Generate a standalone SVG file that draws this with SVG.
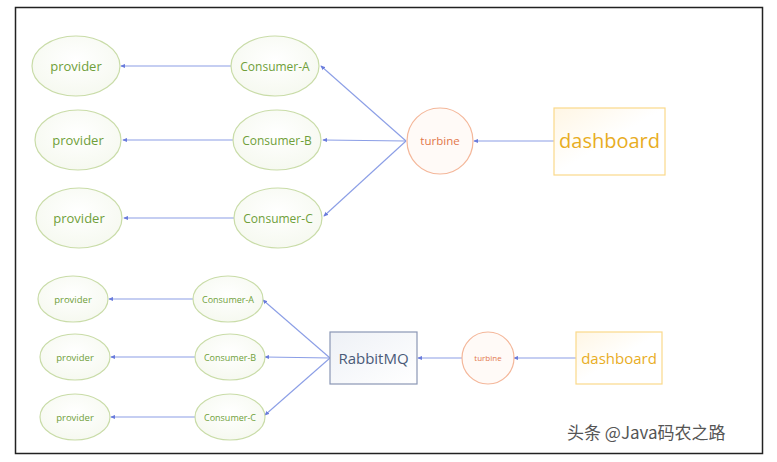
<svg xmlns="http://www.w3.org/2000/svg" width="777" height="462" viewBox="0 0 777 462">
<style>
.ell{fill:url(#gg);stroke:#c9dca8;stroke-width:1.2}
.gt{fill:#6f9f3a;font-family:"Open Sans","Liberation Sans",sans-serif;text-anchor:middle}
.ln{stroke:#8b9ee6;stroke-width:1.1;fill:none;marker-end:url(#ah)}
.tb{fill:#fffaf7;stroke:#f4b79a;stroke-width:1.2}
.tt{fill:#e2774a;font-family:"Open Sans","Liberation Sans",sans-serif;text-anchor:middle}
.db{fill:url(#gy);stroke:#fbd98a;stroke-width:1.2}
.dt{fill:#e8ad1f;font-family:"Open Sans","Liberation Sans",sans-serif;text-anchor:middle}
</style>
<defs>
<radialGradient id="gg" cx="50%" cy="40%" r="60%"><stop offset="0" stop-color="#ffffff"/><stop offset="1" stop-color="#f6f9f0"/></radialGradient>
<linearGradient id="gy" x1="0" y1="0" x2="1" y2="1"><stop offset="0" stop-color="#fff6e4"/><stop offset="0.5" stop-color="#ffffff"/></linearGradient>
<linearGradient id="gb" x1="0" y1="0" x2="1" y2="1"><stop offset="0" stop-color="#eef1f6"/><stop offset="1" stop-color="#ffffff"/></linearGradient>
<marker id="ah" viewBox="0 0 6 6" refX="5" refY="3" markerWidth="5" markerHeight="5" orient="auto" markerUnits="userSpaceOnUse"><path d="M0,0.5 L6,3 L0,5.5 z" fill="#6a7cdc"/></marker>
</defs>
<rect x="0" y="0" width="777" height="462" fill="#ffffff"/>
<rect x="15.5" y="7.5" width="747" height="446" fill="#ffffff" stroke="#222" stroke-width="1.5"/>
<g id="connectors">
<line class="ln" x1="231" y1="66" x2="121" y2="66"/>
<line class="ln" x1="233" y1="140" x2="123" y2="140"/>
<line class="ln" x1="234" y1="218" x2="124" y2="218"/>
<line class="ln" x1="406" y1="141" x2="321" y2="66"/>
<line class="ln" x1="406" y1="141" x2="323" y2="140"/>
<line class="ln" x1="406" y1="141" x2="324" y2="216"/>
<line class="ln" x1="554" y1="141" x2="474" y2="141"/>
<line class="ln" x1="193" y1="299" x2="109" y2="299"/>
<line class="ln" x1="195" y1="357" x2="111" y2="357"/>
<line class="ln" x1="195" y1="417" x2="111" y2="417"/>
<line class="ln" x1="330" y1="358" x2="263" y2="300"/>
<line class="ln" x1="330" y1="358" x2="265" y2="357"/>
<line class="ln" x1="330" y1="358" x2="265" y2="415"/>
<line class="ln" x1="462" y1="358" x2="418" y2="358"/>
<line class="ln" x1="576" y1="358" x2="514" y2="358"/>
</g>
<g id="provider1"><ellipse class="ell" cx="76" cy="66" rx="44" ry="30"/><text class="gt" x="76" y="70.5" font-size="13">provider</text></g>
<g id="consumerA"><ellipse class="ell" cx="275" cy="66" rx="44" ry="30"/><text class="gt" x="275" y="70.5" font-size="12">Consumer-A</text></g>
<g id="provider2"><ellipse class="ell" cx="78" cy="140" rx="43" ry="30"/><text class="gt" x="78" y="144.5" font-size="13">provider</text></g>
<g id="consumerB"><ellipse class="ell" cx="277" cy="140" rx="44" ry="30"/><text class="gt" x="277" y="144.5" font-size="12">Consumer-B</text></g>
<g id="provider3"><ellipse class="ell" cx="79" cy="218" rx="43" ry="30"/><text class="gt" x="79" y="222.5" font-size="13">provider</text></g>
<g id="consumerC"><ellipse class="ell" cx="278" cy="218" rx="44" ry="30"/><text class="gt" x="278" y="222.5" font-size="12">Consumer-C</text></g>
<g id="turbine1"><circle class="tb" cx="440" cy="141" r="33"/><text class="tt" x="440" y="145" font-size="11.5">turbine</text></g>
<g id="dashboard1"><rect class="db" x="554" y="108" width="111" height="67"/><text class="dt" x="609.5" y="148" font-size="20">dashboard</text></g>
<g id="provider4"><ellipse class="ell" cx="73" cy="299" rx="35" ry="23"/><text class="gt" x="73" y="302.5" font-size="9.5">provider</text></g>
<g id="consumerA2"><ellipse class="ell" cx="228" cy="299" rx="35" ry="23"/><text class="gt" x="228" y="302.5" font-size="9">Consumer-A</text></g>
<g id="provider5"><ellipse class="ell" cx="75" cy="357" rx="35" ry="23"/><text class="gt" x="75" y="360.5" font-size="9.5">provider</text></g>
<g id="consumerB2"><ellipse class="ell" cx="230" cy="357" rx="35" ry="23"/><text class="gt" x="230" y="360.5" font-size="9">Consumer-B</text></g>
<g id="provider6"><ellipse class="ell" cx="75" cy="417" rx="35" ry="23"/><text class="gt" x="75" y="420.5" font-size="9.5">provider</text></g>
<g id="consumerC2"><ellipse class="ell" cx="230" cy="417" rx="35" ry="23"/><text class="gt" x="230" y="420.5" font-size="9">Consumer-C</text></g>
<g id="rabbitmq"><rect x="330" y="332" width="87" height="52" fill="url(#gb)" stroke="#8a97b5" stroke-width="1.2"/><text x="373.5" y="363.5" font-size="15" fill="#4a5a78" font-family="Open Sans,Liberation Sans,sans-serif" text-anchor="middle">RabbitMQ</text></g>
<g id="turbine2"><circle class="tb" cx="488" cy="358" r="26"/><text class="tt" x="488" y="361" font-size="8">turbine</text></g>
<g id="dashboard2"><rect class="db" x="576" y="332" width="86" height="52"/><text class="dt" x="619" y="363.5" font-size="15">dashboard</text></g>
<text x="567" y="439" font-size="17" fill="#555" font-family="Noto Sans CJK SC,sans-serif">头条 @Java码农之路</text>
</svg>
